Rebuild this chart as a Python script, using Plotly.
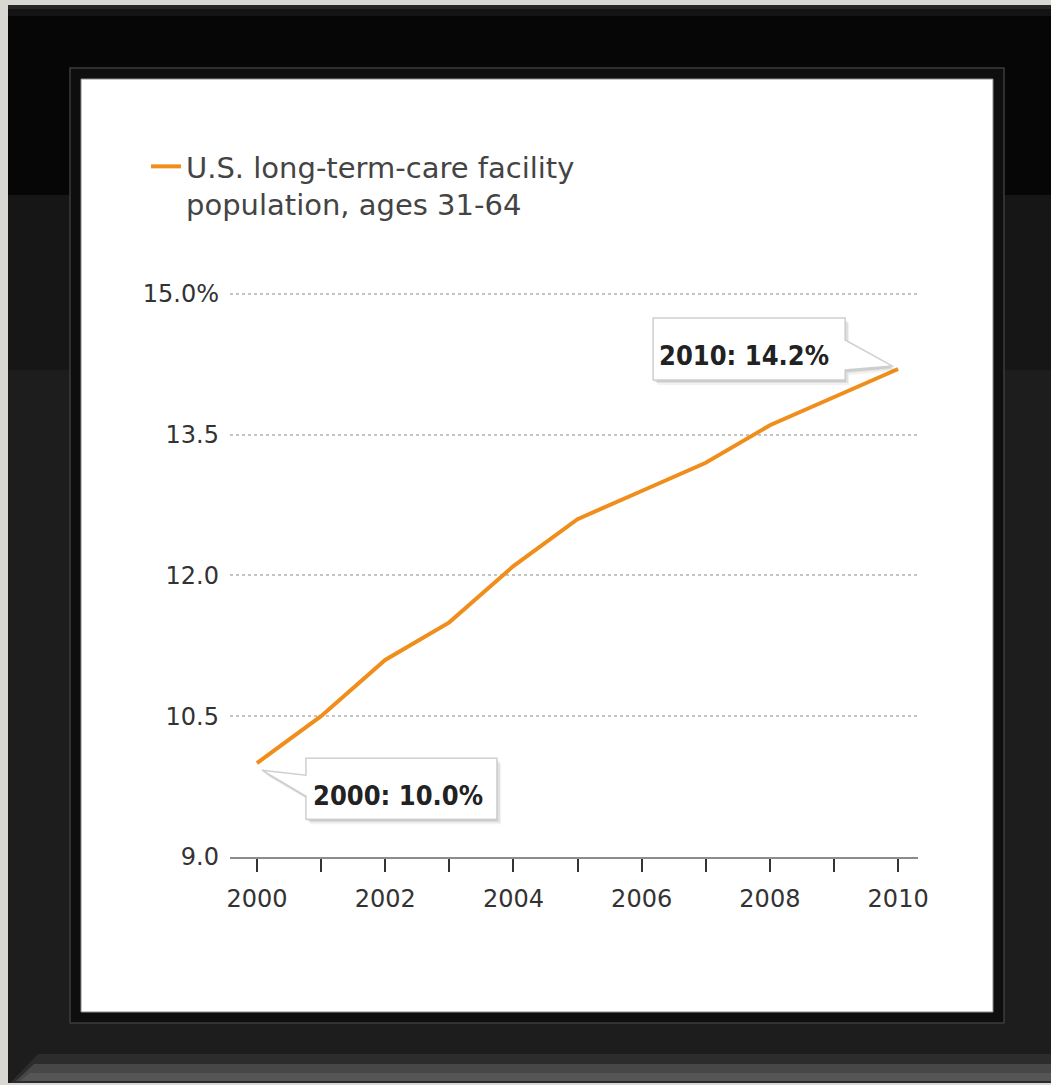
import plotly.graph_objects as go

# ---- data ----
years = [2000, 2001, 2002, 2003, 2004, 2005, 2006, 2007, 2008, 2009, 2010]
share_pct = [10.0, 10.5, 11.1, 11.5, 12.1, 12.6, 12.9, 13.2, 13.6, 13.9, 14.2]
series_name = "U.S. long-term-care facility<br>population, ages 31-64"
y_tickvals = [9.0, 10.5, 12.0, 13.5, 15.0]
y_ticktext = ["9.0", "10.5", "12.0", "13.5", "15.0%"]
x_ticktext = [str(y) if y % 2 == 0 else "" for y in years]

W, H = 1051, 1085
ORANGE = "#F08E1C"
BASE_FONT = "DejaVu Sans, Liberation Sans, Arial, sans-serif"
NARROW_BOLD = "Liberation Sans Narrow, DejaVu Sans Condensed, Arial Narrow, Liberation Sans, Arial, sans-serif"


def px(x):
    return x / W


def py(y):
    return 1 - y / H


def rect(x0, y0, x1, y1, fill, line=None, lw=0):
    return dict(type="rect", xref="paper", yref="paper",
                x0=px(x0), x1=px(x1), y0=py(y1), y1=py(y0),
                fillcolor=fill, line=dict(color=line or fill, width=lw),
                layer="below")


def paper_path(points, fill):
    d = "M " + " L ".join(f"{px(a):.5f},{py(b):.5f}" for a, b in points) + " Z"
    return dict(type="path", xref="paper", yref="paper", path=d,
                fillcolor=fill, line=dict(width=0), layer="below")


shapes = [
    # outer frame
    rect(8, 5, W, 1083, "#060606"),
    rect(8, 5, W, 9, "#262626"),
    rect(8, 9, W, 16, "#141414"),
    rect(8, 195, W, 370, "#161616"),
    rect(8, 370, W, 1083, "#1d1d1d"),
    paper_path([(10, 1083), (38, 1054), (W, 1054), (W, 1083)], "#2c2c2c"),
    paper_path([(16, 1081), (34, 1064), (W, 1064), (W, 1081)], "#474747"),
    paper_path([(20, 1081), (30, 1073), (W, 1073), (W, 1081)], "#555555"),
    # inner bevel + white mat
    rect(70, 68, 1004, 1023, "#0e0e0e", "#3c3c3c", 1.5),
    rect(81, 79, 993, 1012, "#ffffff", "#8a8a8a", 1),
]


def callout(xa, ya, pts, txt, tdx, tdy):
    out = []
    for (ox, oy, a) in [(4, -5, 0.05), (3, -3, 0.07), (1, -2, 0.09)]:
        d = "M " + " L ".join(f"{x + ox},{y + oy}" for x, y in pts) + " Z"
        out.append(dict(type="path", xref="x", yref="y", xsizemode="pixel",
                        ysizemode="pixel", xanchor=xa, yanchor=ya, path=d,
                        fillcolor=f"rgba(0,0,0,{a})", line=dict(width=0),
                        layer="above"))
    d = "M " + " L ".join(f"{x},{y}" for x, y in pts) + " Z"
    out.append(dict(type="path", xref="x", yref="y", xsizemode="pixel",
                    ysizemode="pixel", xanchor=xa, yanchor=ya, path=d,
                    fillcolor="#ffffff", line=dict(color="#cfcfcf", width=1.5),
                    layer="above"))
    ann = dict(x=xa, y=ya, xref="x", yref="y", text=f"<b>{txt}</b>",
               showarrow=False, xshift=tdx, yshift=tdy,
               font=dict(family=NARROW_BOLD, size=27, color="#222222"))
    return out, ann


# callout for last point
last_pts = [(-245, 51), (-53, 51), (-53, 29), (-6, 3), (-53, -1), (-53, -11), (-245, -11)]
s1, a1 = callout(years[-1], share_pct[-1], last_pts,
                 f"{years[-1]}: {share_pct[-1]:.1f}%", -154, 13)
first_pts = [(49, 5), (240, 5), (240, -56), (49, -56), (49, -33), (5, -7), (49, -12)]
s2, a2 = callout(years[0], share_pct[0], first_pts,
                 f"{years[0]}: {share_pct[0]:.1f}%", 141, -32)
shapes += s1 + s2

fig = go.Figure()
fig.add_trace(go.Scatter(
    x=years, y=share_pct, mode="lines", name=series_name,
    line=dict(color=ORANGE, width=4), showlegend=True,
))

fig.update_layout(
    width=W, height=H,
    margin=dict(l=0, r=0, t=0, b=0, pad=0),
    paper_bgcolor="#d9d7d2",
    plot_bgcolor="rgba(0,0,0,0)",
    shapes=shapes,
    annotations=[a1, a2],
    showlegend=True,
    legend=dict(x=px(146), y=py(141), xanchor="left", yanchor="top",
                bgcolor="rgba(0,0,0,0)", valign="top",
                font=dict(family=BASE_FONT, size=29, color="#444444"),
                itemwidth=30, tracegroupgap=0),
    xaxis=dict(
        domain=[px(230), px(918)],
        range=[1999.58, 2010.31],
        tickvals=years, ticktext=x_ticktext,
        ticks="outside", ticklen=13, tickwidth=2, tickcolor="#333333",
        showline=True, linecolor="#8c8c8c", linewidth=2,
        showgrid=False, zeroline=False, automargin=False,
        ticklabelstandoff=6,
        tickfont=dict(family=BASE_FONT, size=24, color="#333333"),
        fixedrange=True,
    ),
    yaxis=dict(
        domain=[py(857), py(292)],
        range=[9.0, 15.02],
        tickvals=y_tickvals, ticktext=y_ticktext,
        ticks="", showline=False, zeroline=False,
        showgrid=True, gridcolor="#c4c4c4", gridwidth=1.5, griddash="dot",
        ticklabelstandoff=10, automargin=False,
        tickfont=dict(family=BASE_FONT, size=24, color="#333333"),
        fixedrange=True,
    ),
)

fig.write_html("out.html")
